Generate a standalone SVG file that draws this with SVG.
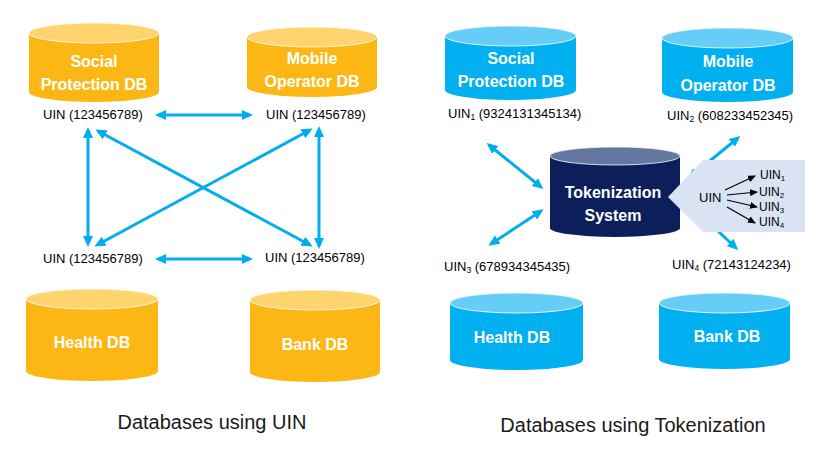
<svg xmlns="http://www.w3.org/2000/svg" width="823" height="450" viewBox="0 0 823 450">
<defs>
<style>
.org{fill:#FDB714}
.orgTop{fill:#FFD46E;stroke:#FFFFFF;stroke-width:0.8}
.blu{fill:#00B0F0}
.bluTop{fill:#66CDF6;stroke:#FFFFFF;stroke-width:0.8}
.tok{fill:#0D1F5A}
.tokTop{fill:#6477A0;stroke:#FFFFFF;stroke-width:0.8}
.db{font-family:"Liberation Sans",Arial,sans-serif;font-weight:bold;font-size:16px;fill:#FFFFFF;text-anchor:middle}
.lbl{font-family:"Liberation Sans",Arial,sans-serif;font-size:13px;fill:#000000}
.sm{font-family:"Liberation Sans",Arial,sans-serif;font-size:12px;fill:#000000}
.title{font-family:"Liberation Sans",Arial,sans-serif;font-size:20px;fill:#1a1a1a;text-anchor:middle}
.conn{stroke:#00AEEF;stroke-width:3;fill:none}
.blk{stroke:#000000;stroke-width:1.2;fill:none}
</style>
<marker id="ah" markerUnits="userSpaceOnUse" viewBox="0 0 11 10" markerWidth="11" markerHeight="10" refX="8" refY="5" orient="auto-start-reverse">
<path d="M0,0 L11,5 L0,10 z" fill="#00AEEF"/>
</marker>
<marker id="bh" markerUnits="userSpaceOnUse" viewBox="0 0 8 7" markerWidth="8" markerHeight="7" refX="7" refY="3.5" orient="auto">
<path d="M0,0 L8,3.5 L0,7 z" fill="#000000"/>
</marker>
</defs>
<rect width="823" height="450" fill="#FFFFFF"/>

<!-- Left: Databases using UIN -->
<g id="left-social">
<path class="org" d="M29,33 A65,10 0 0 1 159,33 V92 A65,10 0 0 1 29,92 Z"/>
<ellipse class="orgTop" cx="94" cy="33" rx="65" ry="10"/>
<text class="db" x="94" y="67">Social</text>
<text class="db" x="94" y="90">Protection DB</text>
</g>
<g id="left-mobile">
<path class="org" d="M247,37 A65,10 0 0 1 377,37 V87 A65,10 0 0 1 247,87 Z"/>
<ellipse class="orgTop" cx="312" cy="37" rx="65" ry="10"/>
<text class="db" x="312" y="64">Mobile</text>
<text class="db" x="312" y="87">Operator DB</text>
</g>
<g id="left-health">
<path class="org" d="M26,299 A66,10 0 0 1 158,299 V371 A66,10 0 0 1 26,371 Z"/>
<ellipse class="orgTop" cx="92" cy="299" rx="66" ry="10"/>
<text class="db" x="92" y="348">Health DB</text>
</g>
<g id="left-bank">
<path class="org" d="M250,300 A65,10 0 0 1 380,300 V372 A65,10 0 0 1 250,372 Z"/>
<ellipse class="orgTop" cx="315" cy="300" rx="65" ry="10"/>
<text class="db" x="315" y="350">Bank DB</text>
</g>
<g id="left-labels">
<text class="lbl" x="43" y="119">UIN (123456789)</text>
<text class="lbl" x="266" y="119">UIN (123456789)</text>
<text class="lbl" x="43" y="263">UIN (123456789)</text>
<text class="lbl" x="265" y="262">UIN (123456789)</text>
</g>

<!-- Right: Databases using Tokenization -->
<g id="right-social">
<path class="blu" d="M445,36 A65.5,10 0 0 1 576,36 V90 A65.5,10 0 0 1 445,90 Z"/>
<ellipse class="bluTop" cx="510.5" cy="36" rx="65.5" ry="10"/>
<text class="db" x="511" y="64">Social</text>
<text class="db" x="511" y="87">Protection DB</text>
</g>
<g id="right-mobile">
<path class="blu" d="M662,38 A65.5,10 0 0 1 793,38 V92 A65.5,10 0 0 1 662,92 Z"/>
<ellipse class="bluTop" cx="727.5" cy="38" rx="65.5" ry="10"/>
<text class="db" x="728" y="67">Mobile</text>
<text class="db" x="728" y="91">Operator DB</text>
</g>
<g id="right-health">
<path class="blu" d="M450,303 A66.5,10 0 0 1 583,303 V360 A66.5,10 0 0 1 450,360 Z"/>
<ellipse class="bluTop" cx="516.5" cy="303" rx="66.5" ry="10"/>
<text class="db" x="512" y="343">Health DB</text>
</g>
<g id="right-bank">
<path class="blu" d="M659,303 A65.5,10 0 0 1 790,303 V359 A65.5,10 0 0 1 659,359 Z"/>
<ellipse class="bluTop" cx="724.5" cy="303" rx="65.5" ry="10"/>
<text class="db" x="727" y="342">Bank DB</text>
</g>

<g id="connectors">
<line class="conn" x1="158" y1="115" x2="250" y2="115" marker-start="url(#ah)" marker-end="url(#ah)"/>
<line class="conn" x1="158" y1="259" x2="250" y2="259" marker-start="url(#ah)" marker-end="url(#ah)"/>
<line class="conn" x1="88" y1="130" x2="88" y2="244" marker-start="url(#ah)" marker-end="url(#ah)"/>
<line class="conn" x1="319" y1="129" x2="319" y2="246" marker-start="url(#ah)" marker-end="url(#ah)"/>
<line class="conn" x1="98" y1="131" x2="310" y2="245" marker-start="url(#ah)" marker-end="url(#ah)"/>
<line class="conn" x1="310" y1="130" x2="97" y2="245" marker-start="url(#ah)" marker-end="url(#ah)"/>
<line class="conn" x1="489" y1="145" x2="541" y2="187" marker-start="url(#ah)" marker-end="url(#ah)"/>
<line class="conn" x1="541" y1="211" x2="491" y2="244" marker-start="url(#ah)" marker-end="url(#ah)"/>
<line class="conn" x1="690" y1="177" x2="738" y2="138" marker-start="url(#ah)" marker-end="url(#ah)"/>
<line class="conn" x1="700" y1="214" x2="736" y2="248" marker-start="url(#ah)" marker-end="url(#ah)"/>
</g>

<g id="tokenization">
<path class="tok" d="M550,156 A65,9 0 0 1 680,156 V228 A65,9 0 0 1 550,228 Z"/>
<ellipse class="tokTop" cx="615" cy="156" rx="65" ry="9"/>
<text class="db" x="613" y="198">Tokenization</text>
<text class="db" x="613" y="221">System</text>
</g>

<g id="callout">
<polygon points="668,197 703,160 805,160 805,232 703,232" fill="#DAE3F3"/>
<text class="lbl" x="699" y="202">UIN</text>
<line class="blk" x1="725" y1="190" x2="755" y2="176" marker-end="url(#bh)"/>
<line class="blk" x1="727" y1="195" x2="757" y2="192" marker-end="url(#bh)"/>
<line class="blk" x1="727" y1="200" x2="757" y2="207" marker-end="url(#bh)"/>
<line class="blk" x1="727" y1="207" x2="755" y2="223" marker-end="url(#bh)"/>
<text class="sm" x="760" y="179">UIN<tspan font-size="8" dy="2">1</tspan></text>
<text class="sm" x="759" y="196">UIN<tspan font-size="8" dy="2">2</tspan></text>
<text class="sm" x="759" y="211">UIN<tspan font-size="8" dy="2">3</tspan></text>
<text class="sm" x="759" y="226">UIN<tspan font-size="8" dy="2">4</tspan></text>
</g>

<g id="right-labels">
<text class="lbl" x="448" y="118" font-size="12.5">UIN<tspan font-size="8.5" dy="2">1</tspan><tspan dy="-2"> (9324131345134)</tspan></text>
<text class="lbl" x="667" y="120" font-size="12.5">UIN<tspan font-size="8.5" dy="2">2</tspan><tspan dy="-2"> (608233452345)</tspan></text>
<text class="lbl" x="444" y="271" font-size="12.5">UIN<tspan font-size="8.5" dy="2">3</tspan><tspan dy="-2"> (678934345435)</tspan></text>
<text class="lbl" x="672" y="269" font-size="12.5">UIN<tspan font-size="8.5" dy="2">4</tspan><tspan dy="-2"> (72143124234)</tspan></text>
</g>

<g id="titles">
<text class="title" x="212" y="429">Databases using UIN</text>
<text class="title" x="633" y="432">Databases using Tokenization</text>
</g>
</svg>
